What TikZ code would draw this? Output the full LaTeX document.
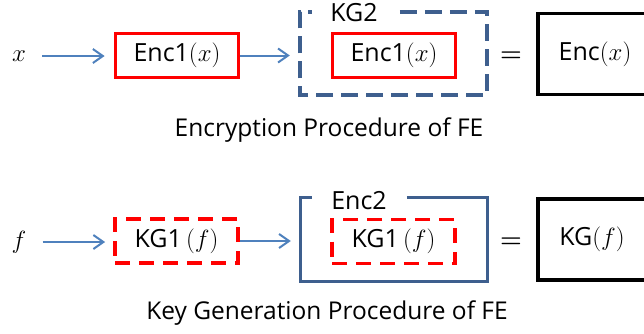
\documentclass[tikz,border=0pt]{standalone}
\usepackage{fontspec}
\setmainfont{Open Sans}
\usetikzlibrary{arrows.meta}
\definecolor{arrowblue}{HTML}{4F81BD}
\definecolor{frameblue}{HTML}{3E5F8E}
\definecolor{boxred}{HTML}{FF0000}
\newcommand\mth[1]{{\fontsize{28}{30}\selectfont$#1$}}
\newcommand\eqsign{{\fontsize{24}{30}\selectfont\boldmath$=$}}
\begin{document}
\begin{tikzpicture}[x=1pt,y=-1pt,
  txt/.style={font=\fontsize{25}{28}\selectfont, inner sep=0pt},
  captxt/.style={font=\fontsize{24.5}{28}\selectfont, inner sep=0pt},
  redbox/.style={txt, draw=boxred, line width=3.8pt, minimum width=123pt, minimum height=44pt},
  reddash/.style={redbox, dash pattern=on 15pt off 9pt},
  blackbox/.style={txt, draw=black, line width=3.8pt, minimum height=81pt},
  framebox/.style={inner sep=0pt, minimum width=187pt, minimum height=83pt},
  conn/.style={draw=arrowblue, line width=2pt, -{Straight Barb[length=10pt,width=14pt]}},
  bluedash/.style={draw=frameblue, line width=3.6pt, dash pattern=on 17pt off 8pt},
  bluesolid/.style={draw=frameblue, line width=3pt}
]
\clip (0,0) rectangle (644,333);
% ---------- top row ----------
\node[txt] (x) at (19,56) {\mth{x}};
\node[redbox] (e1) at (177,55.5) {Enc1\mth{(x)}};
\node[framebox] (kg2) at (393.5,53.5) {};
\node[redbox] (e1b) at (394,55.5) {Enc1\mth{(x)}};
\node[txt] (kg2l) at (354,13) {KG2};
\node[txt] (eq1) at (511,57) {\eqsign};
\node[blackbox, minimum width=114pt] (enc) at (595,54) {Enc\mth{(x)}};
\node[captxt] (cap1) at (329,130) {Encryption Procedure of FE};
\draw[bluedash] ([xshift=100pt]kg2.north west) -- (kg2.north east) -- (kg2.south east)
  -- (kg2.south west) -- (kg2.north west) -- ([xshift=12pt]kg2.north west);
\draw[conn, shorten <=16pt, shorten >=9pt] (x) -- (x -| e1.west);
\draw[conn, shorten >=10pt] (e1.east) -- (e1.east -| kg2.west);
% ---------- bottom row ----------
\node[txt] (f) at (19,242) {\mth{f}};
\node[reddash] (k1) at (176.5,241) {KG1\,\mth{(f)}};
\node[framebox, minimum width=186pt] (enc2) at (394,239.5) {};
\node[reddash] (k1b) at (393.5,241.5) {KG1\,\mth{(f)}};
\node[txt] (enc2l) at (359,201) {Enc2};
\node[txt] (eq2) at (511,243) {\eqsign};
\node[blackbox, minimum width=108pt] (kg) at (592,239.5) {KG\mth{(f)}};
\node[captxt] (cap2) at (327,313) {Key Generation Procedure of FE};
\draw[bluesolid] ([xshift=106pt]enc2.north west) -- (enc2.north east) -- (enc2.south east)
  -- (enc2.south west) -- (enc2.north west) -- ([xshift=11pt]enc2.north west);
\draw[conn, shorten <=16pt, shorten >=8pt] (f) -- (f -| k1.west);
\draw[conn, shorten >=10pt] (k1.east) -- (k1.east -| enc2.west);
\end{tikzpicture}
\end{document}
